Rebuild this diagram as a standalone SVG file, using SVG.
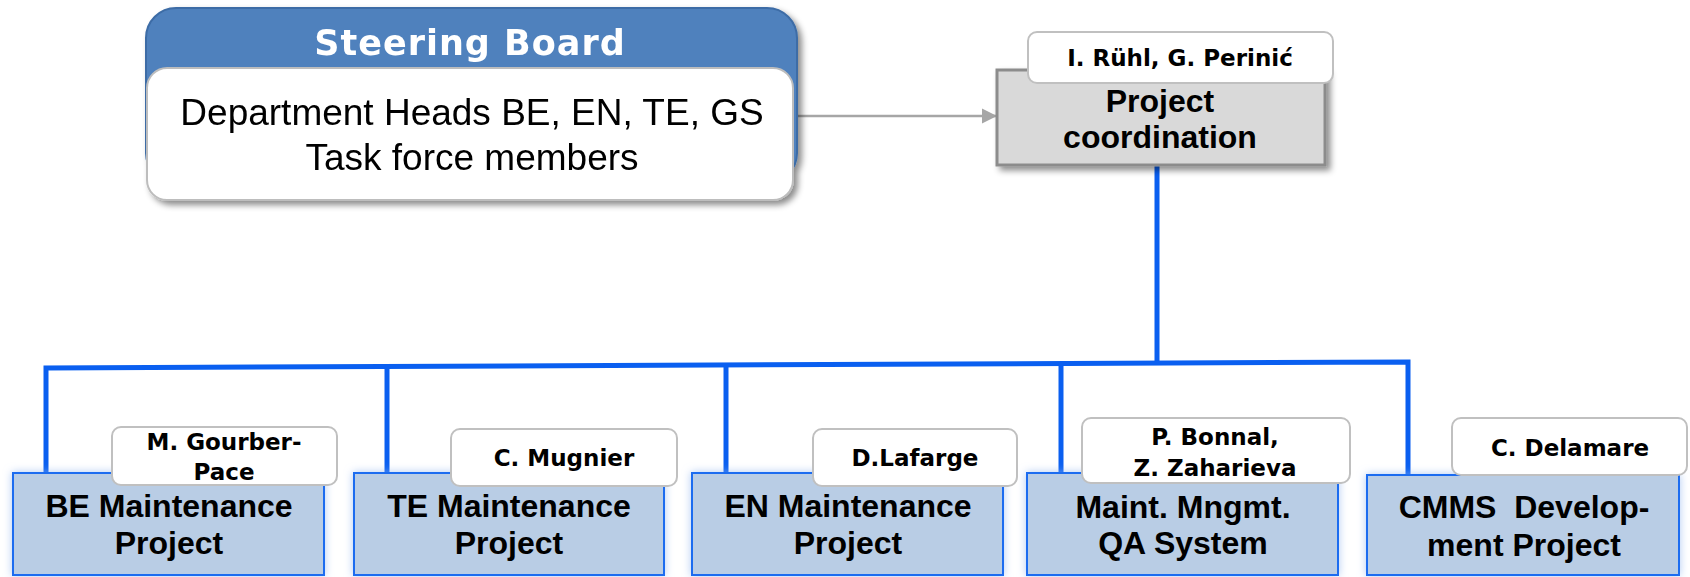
<svg xmlns="http://www.w3.org/2000/svg" width="1690" height="577" viewBox="0 0 1690 577">
<defs>
<style>
.box{fill:#b9cde5;stroke:#1a6cf0;stroke-width:2}
.lbl{fill:#ffffff;stroke:#c0c0c0;stroke-width:2}
.bt{font-family:"Liberation Sans",Arial,sans-serif;font-weight:bold;font-size:32px;fill:#000;text-anchor:middle}
.lt{font-family:"DejaVu Sans",sans-serif;font-weight:bold;font-size:23px;fill:#000;text-anchor:middle}
.conn{fill:none;stroke:#0a5ff0;stroke-width:5}
</style>
<filter id="shadow" x="-10%" y="-10%" width="130%" height="140%">
<feDropShadow dx="4" dy="4" stdDeviation="3" flood-color="#000" flood-opacity="0.45"/>
</filter>
<filter id="glow" x="-10%" y="-20%" width="120%" height="140%">
<feDropShadow dx="0" dy="0" stdDeviation="4" flood-color="#8fb4ef" flood-opacity="0.7"/>
</filter>
<marker id="arr" markerWidth="16" markerHeight="16" refX="15" refY="8" orient="auto" markerUnits="userSpaceOnUse">
<path d="M0,0.5 L15,8 L0,15.5 Z" fill="#a6a6a6"/>
</marker>
</defs>
<rect width="1690" height="577" fill="#ffffff"/>

<g id="connectors">
<line x1="796" y1="116" x2="997" y2="116" stroke="#a6a6a6" stroke-width="2.5" marker-end="url(#arr)"/>
<path class="conn" d="M1157,166 V365"/>
<path class="conn" d="M46,474 V368 L1408,362 V474"/>
<path class="conn" d="M387,474 V367"/>
<path class="conn" d="M726,474 V366"/>
<path class="conn" d="M1061,474 V364"/>
</g>

<g id="steering-board" filter="url(#shadow)">
<rect x="146" y="8" width="651" height="175" rx="30" fill="#4f81bd" stroke="#3d6ca6" stroke-width="2"/>
<rect x="147" y="68" width="646" height="132" rx="20" fill="#ffffff" stroke="#bdbdbd" stroke-width="2"/>
<text x="470" y="55" font-family="'DejaVu Sans',sans-serif" font-weight="bold" font-size="35" fill="#ffffff" text-anchor="middle" letter-spacing="1">Steering Board</text>
<text x="472" y="125" font-family="'Liberation Sans',Arial,sans-serif" font-size="37" fill="#000" text-anchor="middle">Department Heads BE, EN, TE, GS</text>
<text x="472" y="170" font-family="'Liberation Sans',Arial,sans-serif" font-size="37" fill="#000" text-anchor="middle">Task force members</text>
</g>

<g id="project-coordination">
<rect x="997" y="70" width="328" height="95" fill="#d9d9d9" stroke="#8c8c8c" stroke-width="3" filter="url(#shadow)"/>
<text class="bt" x="1160" y="112" font-size="31">Project</text>
<text class="bt" x="1160" y="148" font-size="31">coordination</text>
<rect class="lbl" x="1028" y="32" width="305" height="51" rx="9"/>
<text class="lt" x="1180" y="66" font-size="24">I. Rühl, G. Perinić</text>
</g>

<g id="be-maintenance">
<rect class="box" x="13" y="473" width="311" height="102" filter="url(#glow)"/>
<text class="bt" x="169" y="517">BE Maintenance</text>
<text class="bt" x="169" y="554">Project</text>
<rect class="lbl" x="112" y="427" width="225" height="58" rx="9"/>
<text class="lt" x="224" y="450">M. Gourber-</text>
<text class="lt" x="224" y="480">Pace</text>
</g>

<g id="te-maintenance">
<rect class="box" x="354" y="473" width="310" height="102" filter="url(#glow)"/>
<text class="bt" x="509" y="517">TE Maintenance</text>
<text class="bt" x="509" y="554">Project</text>
<rect class="lbl" x="451" y="429" width="226" height="57" rx="9"/>
<text class="lt" x="564" y="466">C. Mugnier</text>
</g>

<g id="en-maintenance">
<rect class="box" x="692" y="473" width="311" height="102" filter="url(#glow)"/>
<text class="bt" x="848" y="517">EN Maintenance</text>
<text class="bt" x="848" y="554">Project</text>
<rect class="lbl" x="813" y="429" width="204" height="57" rx="9"/>
<text class="lt" x="915" y="466">D.Lafarge</text>
</g>

<g id="maint-qa">
<rect class="box" x="1027" y="473" width="311" height="102" filter="url(#glow)"/>
<text class="bt" x="1183" y="518">Maint. Mngmt.</text>
<text class="bt" x="1183" y="554">QA System</text>
<rect class="lbl" x="1082" y="418" width="268" height="65" rx="9"/>
<text class="lt" x="1215" y="445">P. Bonnal,</text>
<text class="lt" x="1215" y="476">Z. Zaharieva</text>
</g>

<g id="cmms-development">
<rect class="box" x="1367" y="475" width="312" height="100" filter="url(#glow)"/>
<text class="bt" x="1524" y="518" xml:space="preserve">CMMS  Develop-</text>
<text class="bt" x="1524" y="556">ment Project</text>
<rect class="lbl" x="1452" y="418" width="235" height="57" rx="9"/>
<text class="lt" x="1570" y="456">C. Delamare</text>
</g>
</svg>
